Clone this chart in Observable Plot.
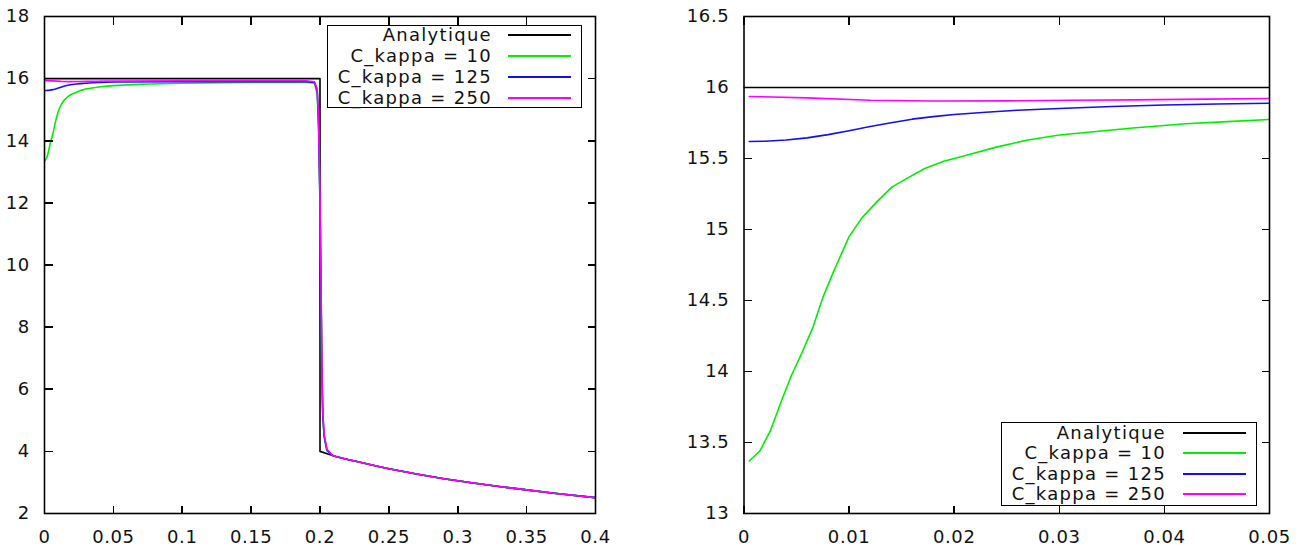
<!DOCTYPE html>
<html>
<head>
<meta charset="utf-8">
<script src="https://cdn.jsdelivr.net/npm/d3@7"></script>
<script src="https://cdn.jsdelivr.net/npm/@observablehq/plot@0.6"></script>
</head>
<body style="margin:0;background:#fff">
<div id="wrap" style="position:relative;width:1307px;height:547px;font-family:'DejaVu Sans',sans-serif">
  <div id="row" style="display:flex;flex-direction:row;align-items:flex-start;width:1307px;height:547px"></div>
</div>
<script>
// ---- data ----
const seriesNames = ["Analytique", "C_kappa = 10", "C_kappa = 125", "C_kappa = 250"];
const seriesColors = ["#000000", "#00ee00", "#1010f0", "#ff00ff"];

const leftXTicks = [0, 0.05, 0.1, 0.15, 0.2, 0.25, 0.3, 0.35, 0.4];
const leftYTicks = [2, 4, 6, 8, 10, 12, 14, 16, 18];
const rightXTicks = [0, 0.01, 0.02, 0.03, 0.04, 0.05];
const rightYTicks = [13, 13.5, 14, 14.5, 15, 15.5, 16, 16.5];

// common decaying tail after the jump (x > 0.2)
const tailX = [0.21, 0.22, 0.23, 0.24, 0.25, 0.27, 0.29, 0.31, 0.33, 0.35, 0.37, 0.4];
const tailY = [3.85, 3.74, 3.64, 3.54, 3.44, 3.27, 3.12, 2.99, 2.87, 2.76, 2.65, 2.51];

// Analytique
const xAna = [0, 0.2, 0.2, 0.208];
const yAna = [16, 16, 4.0, 3.88];

// C_kappa = 10
const x10 = [0.0005, 0.0015, 0.0025, 0.0035, 0.0045, 0.0055, 0.0065, 0.0075, 0.0085, 0.0100, 0.0112, 0.0127, 0.0141, 0.0155, 0.0172, 0.0190, 0.0210, 0.0240, 0.0270, 0.0300, 0.0335, 0.0370, 0.0420, 0.0460, 0.0500,
             0.07, 0.10, 0.13, 0.16, 0.19, 0.196, 0.198, 0.199, 0.2, 0.2008, 0.2014, 0.202, 0.203, 0.205, 0.208];
const y10 = [13.37, 13.44, 13.58, 13.78, 13.97, 14.13, 14.30, 14.52, 14.70, 14.95, 15.08, 15.20, 15.30, 15.36, 15.43, 15.48, 15.52, 15.58, 15.63, 15.665, 15.69, 15.715, 15.745, 15.76, 15.775,
             15.82, 15.85, 15.87, 15.88, 15.88, 15.86, 15.5, 14.3, 11.8, 8.8, 6.4, 5.1, 4.45, 4.02, 3.9];

// C_kappa = 125
const x125 = [0.0005, 0.002, 0.004, 0.006, 0.008, 0.010, 0.012, 0.014, 0.016, 0.018, 0.020, 0.023, 0.026, 0.030, 0.035, 0.040, 0.045, 0.050,
              0.1, 0.19, 0.196, 0.198, 0.199, 0.2, 0.2008, 0.2014, 0.202, 0.203, 0.205, 0.208];
const y125 = [15.62, 15.622, 15.63, 15.645, 15.668, 15.695, 15.725, 15.752, 15.777, 15.795, 15.81, 15.826, 15.84, 15.852, 15.866, 15.877, 15.884, 15.889,
              15.9, 15.9, 15.88, 15.6, 14.5, 12.0, 9.0, 6.5, 5.2, 4.5, 4.05, 3.9];

// C_kappa = 250
const x250 = [0.0005, 0.006, 0.012, 0.018, 0.025, 0.031, 0.037, 0.044, 0.050,
              0.1, 0.19, 0.196, 0.198, 0.199, 0.2, 0.2008, 0.2014, 0.202, 0.203, 0.205, 0.208];
const y250 = [15.937, 15.927, 15.91, 15.905, 15.906, 15.91, 15.913, 15.918, 15.923,
              15.93, 15.93, 15.9, 15.65, 14.6, 12.2, 9.2, 6.6, 5.3, 4.55, 4.08, 3.92];

// ---- build tables ----
function table(xs, ys) {
  const pts = xs.map((x, i) => ({x, y: ys[i]}));
  tailX.forEach((x, i) => pts.push({x, y: tailY[i]}));
  return pts;
}
const allSeries = [table(xAna, yAna), table(x10, y10), table(x125, y125), table(x250, y250)];

const H = 547, MT = 16, MB = 34, TICK = 8, TW = 1.6;

function panel({width, marginLeft, marginRight, xDomain, yDomain, xTicks, yTicks}) {
  const fmt = d => String(d);
  return Plot.plot({
    width, height: H,
    marginLeft, marginRight, marginTop: MT, marginBottom: MB,
    x: {domain: xDomain, label: null},
    y: {domain: yDomain, label: null},
    style: {fontFamily: "DejaVu Sans, sans-serif", fontSize: "18px", letterSpacing: "0.6px", color: "#111", background: "white"},
    marks: [
      ...allSeries.map((d, i) => Plot.line(d, {x: "x", y: "y", stroke: seriesColors[i], strokeWidth: 1.6, clip: true})),
      Plot.frame({stroke: "black", strokeWidth: 1.6}),
      Plot.axisX(xTicks, {anchor: "bottom", tickSize: 0, tickPadding: 16.5, tickFormat: fmt, fontSize: 18, label: null}),
      Plot.axisY(yTicks, {anchor: "left", tickSize: 0, tickPadding: 14.7, tickFormat: fmt, fontSize: 18, label: null})
    ]
  });
}

const row = document.getElementById("row");
const wrap = document.getElementById("wrap");

const leftCfg = {width: 640, marginLeft: 44, marginRight: 45, xDomain: [0, 0.4], yDomain: [2, 18], xTicks: leftXTicks, yTicks: leftYTicks};
const rightCfg = {width: 657, marginLeft: 93.5, marginRight: 38, xDomain: [0, 0.05], yDomain: [13, 16.5], xTicks: rightXTicks, yTicks: rightYTicks};

const left = panel(leftCfg);
row.appendChild(left);
const gap = document.createElement("div");
gap.style.flex = "0 0 10px";
row.appendChild(gap);
const right = panel(rightCfg);
row.appendChild(right);
left.style.flex = "0 0 640px";
right.style.flex = "0 0 657px";

// inward mirrored tick marks, placed with the plot's own x / y scales
function addTicks(plot, cfg, offsetX) {
  const sx = plot.scale("x"), sy = plot.scale("y");
  const x0 = offsetX + cfg.marginLeft + 0.5, x1 = offsetX + cfg.width - cfg.marginRight + 0.5;
  const y0 = MT + 0.5, y1 = H - MB + 0.5;
  const mk = (l, t, w, h) => {
    const d = document.createElement("div");
    Object.assign(d.style, {position: "absolute", left: l + "px", top: t + "px", width: w + "px", height: h + "px", background: "#000"});
    wrap.appendChild(d);
  };
  cfg.xTicks.forEach(v => {
    const px = offsetX + sx.apply(v) + 0.5 - TW / 2;
    mk(px, y1 - TICK, TW, TICK);
    mk(px, y0, TW, TICK);
  });
  cfg.yTicks.forEach(v => {
    const py = sy.apply(v) + 0.5 - TW / 2;
    mk(x0, py, TICK, TW);
    mk(x1 - TICK, py, TICK, TW);
  });
}
addTicks(left, leftCfg, 0);
addTicks(right, rightCfg, 650);

function legend(boxLeft, boxTop, boxW, boxH, textRight, lineX1, lineX2, rowYs) {
  const box = document.createElement("div");
  Object.assign(box.style, {position: "absolute", left: boxLeft + "px", top: boxTop + "px", width: boxW + "px", height: boxH + "px",
    border: "1.5px solid #000", boxSizing: "border-box", background: "#fff", zIndex: 2});
  seriesNames.forEach((name, i) => {
    const t = document.createElement("div");
    t.textContent = name;
    Object.assign(t.style, {position: "absolute", fontSize: "18px", letterSpacing: "1.3px", whiteSpace: "nowrap", lineHeight: "20px", color: "#111",
      right: (boxLeft + boxW - textRight) + "px", top: (rowYs[i] - boxTop - 11) + "px"});
    box.appendChild(t);
    const s = document.createElement("div");
    Object.assign(s.style, {position: "absolute", height: "0px", borderTop: "2px solid " + seriesColors[i],
      left: (lineX1 - boxLeft) + "px", width: (lineX2 - lineX1) + "px", top: (rowYs[i] - boxTop - 2) + "px"});
    box.appendChild(s);
  });
  wrap.appendChild(box);
}
legend(326.5, 25, 255.5, 83, 493, 507, 569.5, [35, 56, 76.7, 97.7]);
legend(1001, 422, 256, 83.5, 1167, 1182, 1244.5, [432.7, 453.3, 474, 494.3]);
</script>
</body>
</html>
